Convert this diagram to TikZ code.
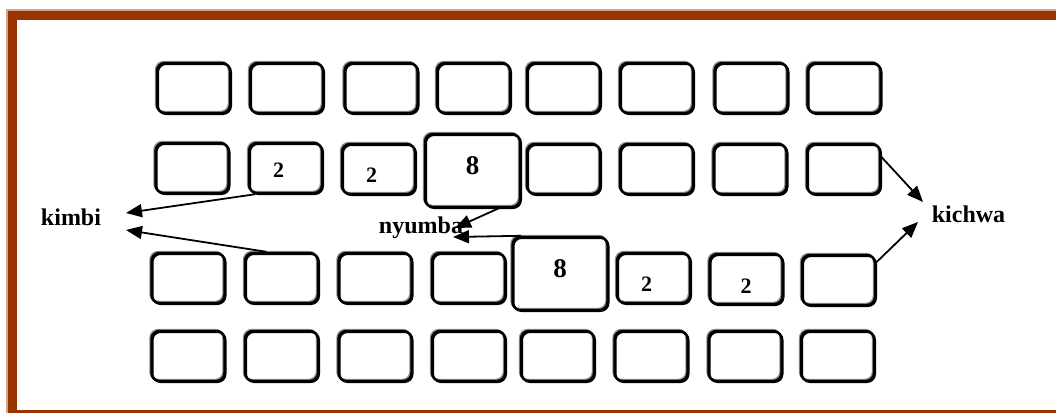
\documentclass[tikz,border=0pt]{standalone}
\usepackage{fontspec}
\setmainfont{Liberation Serif}
\usetikzlibrary{arrows.meta}
\definecolor{framebrown}{HTML}{993300}
\definecolor{framelight}{HTML}{D2A48C}

\begin{document}
\begin{tikzpicture}[x=1pt, y=-1pt,
    every node/.style={font=\bfseries\fontsize{24}{28}\selectfont},
    box/.style={draw=black, line width=2.4pt, rounded corners=8pt,
      minimum width=73pt, minimum height=50pt, inner sep=0pt,
      preaction={draw=black!45, line width=2pt,
        transform canvas={shift={(-1.2pt,1.2pt)}}},
      preaction={draw=black, line width=2pt,
        transform canvas={shift={(1pt,-1pt)}}}},
    bigbox/.style={box, minimum width=95pt, minimum height=73pt},
    two/.style={label={[font=\bfseries\fontsize{22}{26}\selectfont, #1]center:2}},
    eight/.style={label={[font=\bfseries\fontsize{27}{31}\selectfont, yshift=4.5pt]center:8}},
    flow/.style={-{Triangle[length=16pt,width=13pt]}, line width=1.8pt}
  ]
    \useasboundingbox (0,0) rectangle (1056,412);
    \clip (0,0) rectangle (1056,412);
    \draw[framebrown, line width=10pt] (12,15) rectangle (1080,415);
    \draw[framelight, line width=1.5pt] (7,430) -- (7,10) -- (1080,10);

    \foreach \x [count=\i] in {193.5,286.5,381,473.5,563.5,656.5,751,844}
      \node[box] (b1\i) at (\x,88) {};

    \node[box] (b21) at (192,168) {};
    \node[box, two={xshift=-7pt, yshift=-2.5pt}] (b22) at (285.5,168) {};
    \node[box, two={xshift=-7pt, yshift=-6pt}] (b23) at (378.5,169) {};
    \node[bigbox, eight] (b24) at (472.5,170.5) {};
    \foreach \x [count=\i from 5] in {563.5,656.5,750,843.5}
      \node[box] (b2\i) at (\x,169) {};

    \foreach \x [count=\i] in {188,281.5,375,468.5}
      \node[box] (b3\i) at (\x,278) {};
    \node[bigbox, eight] (b35) at (560,273.5) {};
    \node[box, two={xshift=-7pt, yshift=-6.5pt}] (b36) at (653.5,278) {};
    \node[box, two={xshift=0pt, yshift=-7pt}] (b37) at (746,279) {};
    \node[box] (b38) at (838.5,280) {};

    \foreach \x [count=\i] in {188,281.5,375,468.5,557.5,651,745,837.5}
      \node[box] (b4\i) at (\x,356) {};

    \node[anchor=base] (kimbi) at (71,225) {kimbi};
    \node[anchor=base] (nyumba) at (421,233) {nyumba};
    \node[anchor=base] (kichwa) at (968.5,222) {kichwa};

    \coordinate (kimbi-a) at (126,213);
    \coordinate (kimbi-b) at (126,230);
    \coordinate (nyumba-a) at (455,228);
    \coordinate (nyumba-b) at (453,237);
    \coordinate (kichwa-a) at (923,202);
    \coordinate (kichwa-b) at (918,222);

    \draw[flow] (b22.221) -- (kimbi-a);
    \draw[flow] (b32.120) -- (kimbi-b);
    \draw[flow] (b24.-55) -- (nyumba-a);
    \draw[flow] (b35.136) -- (nyumba-b);
    \draw[flow] (b28.18) -- (kichwa-a);
    \draw[flow] (b38.25) -- (kichwa-b);
  \end{tikzpicture}
\end{document}
